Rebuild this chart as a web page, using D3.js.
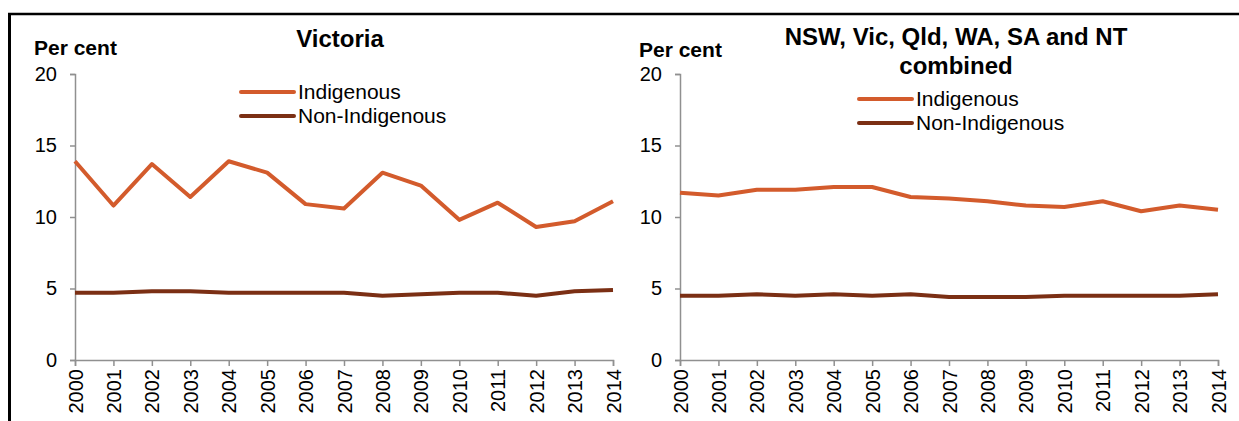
<!DOCTYPE html>
<html lang="en">
<head>
  <meta charset="UTF-8" />
  <title>Indigenous and non-Indigenous rates</title>
  <script src="https://d3js.org/d3.v7.min.js"></script>
  <style>
    body, html {
      margin: 0;
      padding: 0;
      background: #fff;
    }
    svg {
      display: block;
      font-family: "Liberation Sans", Arial, sans-serif;
    }
  </style>
</head>
<body>
  <svg id="chart"></svg>
  <script>
    // Data
    const years = [2000, 2001, 2002, 2003, 2004, 2005, 2006, 2007, 2008, 2009, 2010, 2011, 2012, 2013, 2014];
    const yTicks = [0, 5, 10, 15, 20];
    const seriesNames = ['Indigenous', 'Non-Indigenous'];

    const vicIndigenous = [13.9, 10.8, 13.7, 11.4, 13.9, 13.1, 10.9, 10.6, 13.1, 12.2, 9.8, 11.0, 9.3, 9.7, 11.1];
    const vicNonIndigenous = [4.7, 4.7, 4.8, 4.8, 4.7, 4.7, 4.7, 4.7, 4.5, 4.6, 4.7, 4.7, 4.5, 4.8, 4.9];

    const combIndigenous = [11.7, 11.5, 11.9, 11.9, 12.1, 12.1, 11.4, 11.3, 11.1, 10.8, 10.7, 11.1, 10.4, 10.8, 10.5];
    const combNonIndigenous = [4.5, 4.5, 4.6, 4.5, 4.6, 4.5, 4.6, 4.4, 4.4, 4.4, 4.5, 4.5, 4.5, 4.5, 4.6];

    const colors = ['#d35b2c', '#7b2f14'];

    const width = 1239, height = 421;
    const svg = d3.select('#chart')
      .attr('width', width)
      .attr('height', height);

    // Frame (top and left edges only)
    svg.append('line')
      .attr('x1', 8).attr('x2', width).attr('y1', 14).attr('y2', 14)
      .attr('stroke', '#000').attr('stroke-width', 2.5);
    svg.append('line')
      .attr('x1', 9.5).attr('x2', 9.5).attr('y1', 13).attr('y2', height)
      .attr('stroke', '#000').attr('stroke-width', 3);

    const panels = [
      { title: ['Victoria'], left: 75, right: 613, titleX: 340, titleY: 47, unitX: 34, unitY: 55,
        legendX: 241, legendY: 92, series: [vicIndigenous, vicNonIndigenous] },
      { title: ['NSW, Vic, Qld, WA, SA and NT', 'combined'], left: 680, right: 1218, titleX: 956, titleY: 45, unitX: 639, unitY: 57,
        legendX: 859, legendY: 99, series: [combIndigenous, combNonIndigenous] }
    ];

    panels.forEach(p => {
      const g = svg.append('g');

      const x = d3.scaleLinear()
        .domain([years[0], years[years.length - 1]])
        .range([p.left, p.right]);
      const y = d3.scaleLinear()
        .domain([0, 20])
        .range([360, 74]);

      // y axis
      const yAxis = g.append('g')
        .attr('transform', `translate(${p.left},0)`)
        .call(d3.axisLeft(y).tickValues(yTicks).tickSize(5).tickPadding(13));
      yAxis.select('.domain').attr('stroke', '#909090').attr('stroke-width', 1.5);
      yAxis.selectAll('.tick line').attr('stroke', '#909090').attr('stroke-width', 1.5);
      yAxis.selectAll('.tick text')
        .attr('fill', '#000')
        .style('font-size', '20px')
        .style('font-family', '"Liberation Sans", Arial, sans-serif');

      // x axis
      const xAxis = g.append('g')
        .attr('transform', `translate(0,360)`)
        .call(d3.axisBottom(x).tickValues(years).tickFormat(d3.format('d')).tickSize(6));
      xAxis.select('.domain').attr('stroke', '#909090').attr('stroke-width', 1.5);
      xAxis.selectAll('.tick line').attr('stroke', '#909090').attr('stroke-width', 1.5);
      xAxis.selectAll('.tick text')
        .attr('fill', '#000')
        .attr('transform', 'rotate(-90)')
        .attr('x', -9)
        .attr('y', 0)
        .attr('dy', '0.35em')
        .attr('text-anchor', 'end')
        .style('font-size', '20px')
        .style('font-family', '"Liberation Sans", Arial, sans-serif');

      // lines
      const line = d3.line()
        .x((d, i) => x(years[i]))
        .y(d => y(d));
      p.series.forEach((vals, k) => {
        g.append('path')
          .datum(vals)
          .attr('d', line)
          .attr('fill', 'none')
          .attr('stroke', colors[k])
          .attr('stroke-width', 4)
          .attr('stroke-linejoin', 'round');
      });

      // title
      const title = g.append('text')
        .attr('x', p.titleX)
        .attr('y', p.titleY)
        .attr('text-anchor', 'middle')
        .style('font-size', '24px')
        .style('font-weight', 'bold');
      p.title.forEach((t, i) => {
        title.append('tspan')
          .attr('x', p.titleX)
          .attr('dy', i === 0 ? 0 : 29)
          .text(t);
      });

      // unit label
      g.append('text')
        .attr('x', p.unitX)
        .attr('y', p.unitY)
        .style('font-size', '21px')
        .style('font-weight', 'bold')
        .text('Per cent');

      // legend
      seriesNames.forEach((name, k) => {
        const ly = p.legendY + k * 24;
        g.append('line')
          .attr('x1', p.legendX).attr('x2', p.legendX + 53)
          .attr('y1', ly).attr('y2', ly)
          .attr('stroke', colors[k])
          .attr('stroke-width', 4)
          .attr('stroke-linecap', 'round');
        g.append('text')
          .attr('x', p.legendX + 57)
          .attr('y', ly)
          .attr('dy', '0.35em')
          .style('font-size', '21px')
          .text(name);
      });
    });
  </script>
</body>
</html>
